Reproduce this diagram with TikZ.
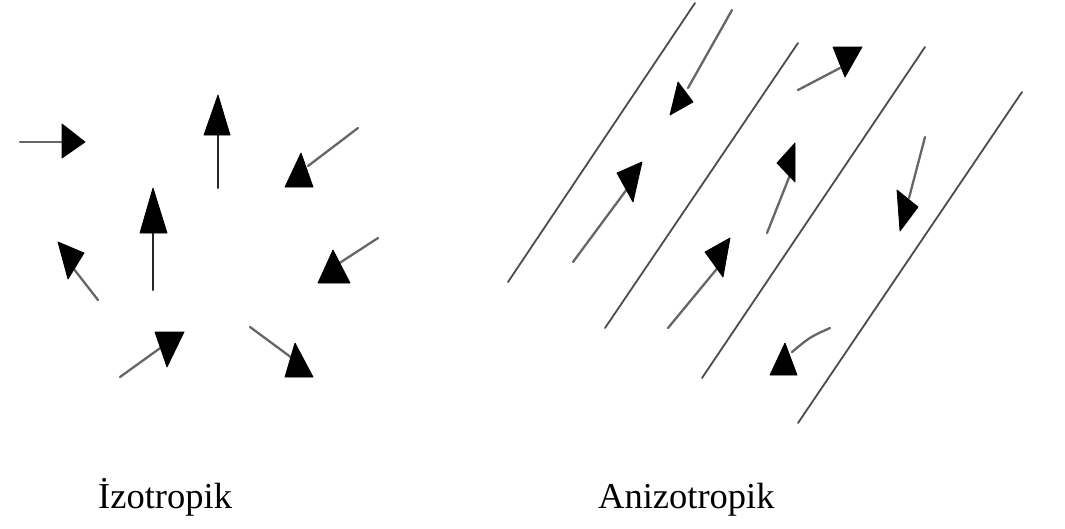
\documentclass[tikz,border=0pt]{standalone}
\usepackage{fontspec}
\setmainfont{Liberation Serif}
\begin{document}
\begin{tikzpicture}[x=1pt,y=-1pt,
  shaft/.style={draw=black!60, line width=2.3pt, line cap=round},
  darkshaft/.style={draw=black!85, line width=2pt, line cap=round},
  head/.style={fill=black, draw=black, line width=0.8pt, line join=round},
  grain/.style={draw=black!70, line width=1.8pt, line cap=round},
  lbl/.style={font=\fontsize{36.5pt}{40pt}\selectfont, anchor=base west, inner sep=0pt}]
\useasboundingbox (0,0) rectangle (1065,528);
\fill[white] (0,0) rectangle (1065,528);

% ---------- Izotropik (left panel) ----------
% 1: right
\draw[shaft] (20,142) -- (66,142);
\filldraw[head] (62,124) -- (85,142) -- (62,158) -- cycle;
% 2: up (tall)
\draw[darkshaft] (218,188) -- (218,130);
\filldraw[head] (218,95) -- (230,135) -- (204,135) -- cycle;
% 3: up (middle)
\draw[darkshaft] (153,290) -- (153,228);
\filldraw[head] (153,188) -- (167,233) -- (140,233) -- cycle;
% 4: down-left (upper right)
\draw[shaft] (358,128) -- (308,166);
\filldraw[head] (301,153) -- (313,187) -- (285,187) -- cycle;
% 5: down-left (right)
\draw[shaft] (378,238) -- (338,264);
\filldraw[head] (333,250) -- (350,283) -- (318,283) -- cycle;
% 6: up-left
\draw[shaft] (98,300) -- (70,264);
\filldraw[head] (58,242) -- (84,253) -- (68,279) -- cycle;
% 7: bottom centre
\draw[shaft] (120,377) -- (163,346);
\filldraw[head] (155,332) -- (184,332) -- (167,367) -- cycle;
% 8: bottom right
\draw[shaft] (250,327) -- (292,358);
\filldraw[head] (295,343) -- (313,377) -- (285,377) -- cycle;

% ---------- Anizotropik (right panel) ----------
% long lines
\draw[grain] (695,3) -- (508,282);
\draw[grain] (798,43) -- (605,328);
\draw[grain] (925,47) -- (702,378);
\draw[grain] (1022,92) -- (798,423);
% A
\draw[shaft] (732,10) -- (688,88);
\filldraw[head] (678,82) -- (693,102) -- (670,115) -- cycle;
% B
\draw[shaft] (573,262) -- (630,185);
\filldraw[head] (642,162) -- (633,202) -- (617,173) -- cycle;
% C
\draw[shaft] (668,328) -- (720,265);
\filldraw[head] (730,238) -- (723,277) -- (705,252) -- cycle;
% D
\draw[shaft] (798,90) -- (840,68);
\filldraw[head] (833,47) -- (862,47) -- (845,77) -- cycle;
% E
\draw[shaft] (767,233) -- (790,175);
\filldraw[head] (795,143) -- (795,182) -- (777,163) -- cycle;
% F
\draw[shaft] (925,137) -- (909,198);
\filldraw[head] (897,190) -- (918,207) -- (900,231) -- cycle;
% G
\draw[shaft] (830,328) .. controls (810,337) .. (792,352);
\filldraw[head] (785,343) -- (797,375) -- (770,375) -- cycle;

% ---------- labels ----------
\node[lbl] (izo) at (98,508) {İzotropik};
\node[lbl] (anizo) at (598,508) {Anizotropik};
\end{tikzpicture}
\end{document}
